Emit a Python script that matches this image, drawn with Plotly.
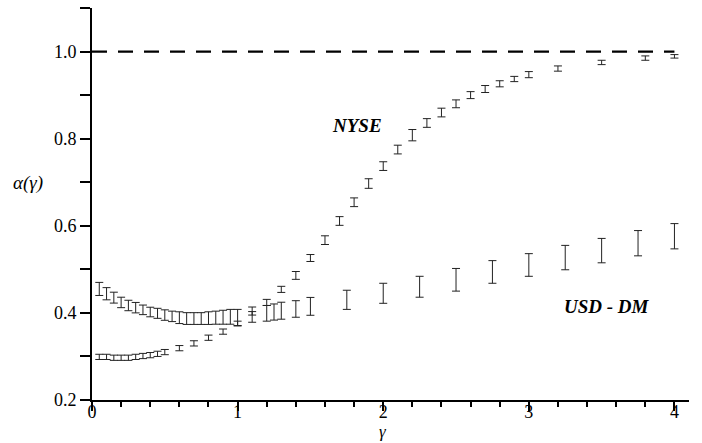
import plotly.graph_objects as go

# NYSE
nyse_gamma = [0.05, 0.10, 0.15, 0.20, 0.25, 0.30, 0.35, 0.40, 0.45, 0.50,
              0.6, 0.7, 0.8, 0.9, 1.0, 1.1, 1.2, 1.3, 1.4, 1.5, 1.6, 1.7, 1.8, 1.9,
              2.0, 2.1, 2.2, 2.3, 2.4, 2.5, 2.6, 2.7, 2.8, 2.9, 3.0, 3.2, 3.5, 3.8, 4.0]
nyse_alpha = [0.299, 0.299, 0.297, 0.297, 0.297, 0.299, 0.301, 0.303, 0.306, 0.310,
              0.319, 0.330, 0.343, 0.357, 0.376, 0.399, 0.424, 0.454, 0.486, 0.526,
              0.567, 0.611, 0.654, 0.697, 0.737, 0.775, 0.808, 0.836, 0.860, 0.880,
              0.900, 0.914, 0.926, 0.937, 0.947, 0.961, 0.975, 0.985, 0.989]
nyse_err = [0.006, 0.006, 0.006, 0.006, 0.006, 0.006, 0.006, 0.006, 0.006, 0.006,
            0.006, 0.006, 0.006, 0.006, 0.005, 0.004, 0.007, 0.007, 0.009, 0.008,
            0.010, 0.010, 0.010, 0.011, 0.010, 0.010, 0.013, 0.010, 0.010, 0.009,
            0.008, 0.008, 0.007, 0.006, 0.007, 0.006, 0.005, 0.005, 0.004]

# USD - DM
usd_gamma = [0.05, 0.10, 0.15, 0.20, 0.25, 0.30, 0.35, 0.40, 0.45, 0.50,
             0.55, 0.60, 0.65, 0.70, 0.75, 0.80, 0.85, 0.90, 0.95, 1.0,
             1.1, 1.2, 1.25, 1.3, 1.4, 1.5, 1.75, 2.0, 2.25, 2.5, 2.75,
             3.0, 3.25, 3.5, 3.75, 4.0]
usd_alpha = [0.455, 0.444, 0.435, 0.424, 0.417, 0.412, 0.407, 0.402, 0.399, 0.395,
             0.392, 0.389, 0.387, 0.387, 0.387, 0.388, 0.389, 0.390, 0.391, 0.389,
             0.396, 0.399, 0.402, 0.405, 0.409, 0.415, 0.430, 0.445, 0.460, 0.476,
             0.494, 0.510, 0.527, 0.543, 0.560, 0.576]
usd_err = [0.015, 0.014, 0.0125, 0.012, 0.012, 0.012, 0.011, 0.011, 0.0115, 0.012,
           0.012, 0.0135, 0.0135, 0.0135, 0.0135, 0.0145, 0.015, 0.016, 0.017, 0.019,
           0.0175, 0.018, 0.0185, 0.0195, 0.019, 0.0205, 0.022, 0.023, 0.024, 0.026,
           0.026, 0.026, 0.028, 0.028, 0.029, 0.029]

ref_gamma = [0, 4]
ref_alpha = [1.0, 1.0]

x_ticks = [0, 1, 2, 3, 4]
y_ticks = [0.2, 0.4, 0.6, 0.8, 1.0]

FONT = "Liberation Serif"

fig = go.Figure()

fig.add_trace(go.Scatter(
    x=ref_gamma, y=ref_alpha, mode="lines",
    line=dict(color="black", width=2.2, dash="15px,11px"),
    showlegend=False, hoverinfo="skip"))

for gx, gy, ge in [(usd_gamma, usd_alpha, usd_err), (nyse_gamma, nyse_alpha, nyse_err)]:
    fig.add_trace(go.Scatter(
        x=gx, y=gy, mode="markers",
        marker=dict(size=1, color="rgba(0,0,0,0)"),
        error_y=dict(type="data", array=ge, visible=True,
                     color="#222222", thickness=1, width=4),
        showlegend=False))

fig.update_layout(
    width=702, height=443,
    margin=dict(l=92, r=13, t=8, b=43),
    paper_bgcolor="white", plot_bgcolor="white",
    font=dict(family=FONT, size=17, color="black"),
    xaxis=dict(range=[0, 4.1], tickvals=x_ticks, ticktext=[str(v) for v in x_ticks],
               showline=True, linecolor="black", linewidth=2,
               ticks="outside", ticklen=9, tickwidth=2, tickcolor="black",
               ticklabelstandoff=-15,
               minor=dict(dtick=0.2, tick0=0, ticks="outside", ticklen=5,
                          tickwidth=2, tickcolor="black", showgrid=False),
               showgrid=False, zeroline=False,
               tickfont=dict(family=FONT, size=18)),
    yaxis=dict(range=[0.2, 1.1], tickvals=y_ticks,
               ticktext=[f"{v:.1f}" for v in y_ticks],
               showline=True, linecolor="black", linewidth=2,
               ticks="outside", ticklen=10, tickwidth=2, tickcolor="black",
               minor=dict(dtick=0.1, tick0=0.2, ticks="outside", ticklen=10,
                          tickwidth=2, tickcolor="black", showgrid=False),
               showgrid=False, zeroline=False,
               tickfont=dict(family=FONT, size=18)),
    annotations=[
        dict(x=1.82, y=0.831, xref="x", yref="y", text="<b><i>NYSE</i></b>",
             showarrow=False, font=dict(family=FONT, size=19)),
        dict(x=3.54, y=0.414, xref="x", yref="y", text="<b><i>USD - DM</i></b>",
             showarrow=False, font=dict(family=FONT, size=19)),
        dict(x=-0.107, y=0.553, xref="paper", yref="paper", text="<i>α(γ)</i>",
             showarrow=False, xanchor="center", yanchor="middle",
             font=dict(family=FONT, size=19)),
        dict(x=0.487, y=-0.081, xref="paper", yref="paper", text="<i>γ</i>",
             showarrow=False, xanchor="center", yanchor="middle",
             font=dict(family=FONT, size=17)),
    ],
)

fig.write_html("out.html", config={"displayModeBar": False},
               post_script="document.body.style.margin='0';")
